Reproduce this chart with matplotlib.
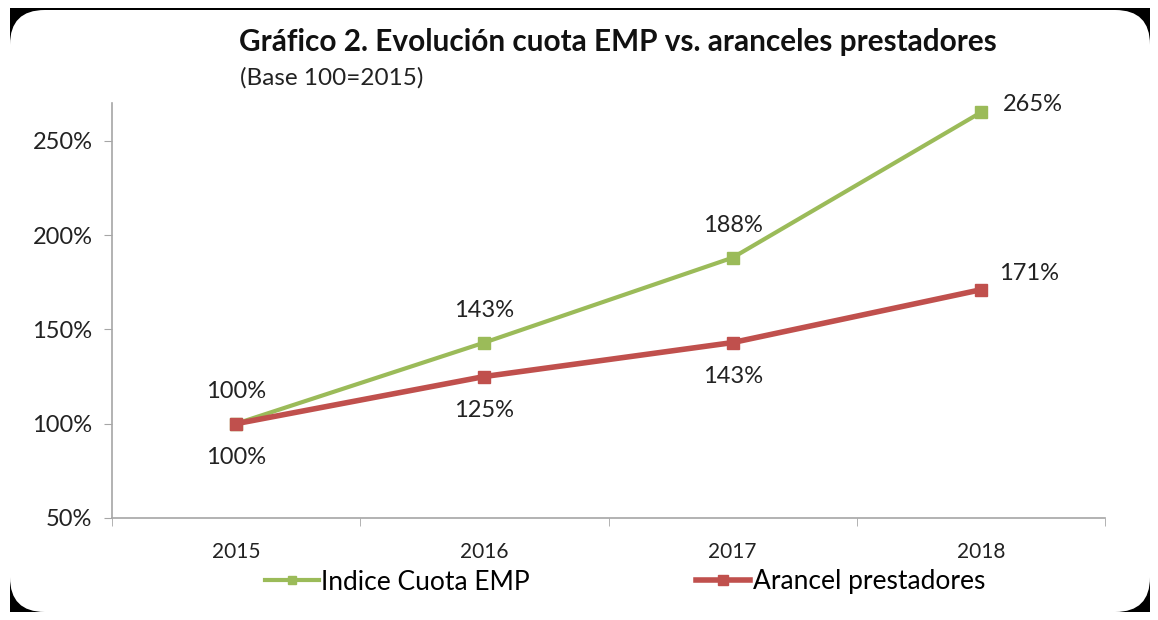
import matplotlib.pyplot as plt
from matplotlib.patches import FancyBboxPatch, Rectangle
from matplotlib.ticker import FixedLocator, FuncFormatter

plt.rcParams['font.family'] = ['Lato', 'DejaVu Sans']

# datos del gráfico
years = ['2015', '2016', '2017', '2018']
cuota_emp = [100, 143, 188, 265]
arancel = [100, 125, 143, 171]
y_ticks = [50, 100, 150, 200, 250]

verde = '#9BBB59'
rojo = '#C0504D'
texto = '#222222'

fig = plt.figure(figsize=(11.58, 6.2), dpi=100)

# marco: esquinas negras y fondo blanco redondeado
fig.patches.append(Rectangle((10 / 1158, 8 / 620), 1140 / 1158, 604 / 620,
                             transform=fig.transFigure, facecolor='black',
                             edgecolor='none', zorder=-2))
fig.patches.append(FancyBboxPatch((10 / 1158, 8 / 620), 1140 / 1158, 602 / 620,
                                  boxstyle='round,pad=0,rounding_size=0.03',
                                  mutation_aspect=1158 / 620,
                                  transform=fig.transFigure, facecolor='white',
                                  edgecolor='none', zorder=-1))

ax = fig.add_axes([112 / 1158, 1 - 518 / 620, (1105 - 112) / 1158, (518 - 103) / 620])
ax.set_facecolor('none')
x = list(range(len(years)))

ax.plot(x, cuota_emp, color=verde, lw=3, marker='s', ms=8, label='Indice Cuota EMP', zorder=3)
ax.plot(x, arancel, color=rojo, lw=4, marker='s', ms=9, label='Arancel prestadores', zorder=4)

# etiquetas de datos
for i, v in enumerate(cuota_emp):
    if i == len(x) - 1:
        ax.annotate(f'{v}%', (i, v), xytext=(22, 8), textcoords='offset pixels',
                    ha='left', va='center', fontsize=17, color=texto)
    else:
        ax.annotate(f'{v}%', (i, v), xytext=(0, 32), textcoords='offset pixels',
                    ha='center', va='center', fontsize=17, color=texto)
for i, v in enumerate(arancel):
    if i == len(x) - 1:
        ax.annotate(f'{v}%', (i, v), xytext=(18, 16), textcoords='offset pixels',
                    ha='left', va='center', fontsize=17, color=texto)
    else:
        ax.annotate(f'{v}%', (i, v), xytext=(0, -34), textcoords='offset pixels',
                    ha='center', va='center', fontsize=17, color=texto)

ax.set_xlim(-0.5, 3.5)
ax.set_ylim(50, 270)
ax.set_xticks(x)
ax.set_xticklabels(years, fontsize=15, color=texto)
ax.xaxis.set_minor_locator(FixedLocator([-0.5, 0.5, 1.5, 2.5, 3.5]))
ax.tick_params(axis='x', which='major', length=0, pad=17)
ax.tick_params(axis='x', which='minor', length=6, color='#A6A6A6', direction='out')
ax.set_yticks(y_ticks)
ax.yaxis.set_major_formatter(FuncFormatter(lambda v, p: f'{v:.0f}%'))
ax.tick_params(axis='y', length=6, color='#A6A6A6', labelsize=17, labelcolor=texto, pad=8)
for s in ['top', 'right']:
    ax.spines[s].set_visible(False)
for s in ['left', 'bottom']:
    ax.spines[s].set_color('#A6A6A6')
    ax.spines[s].set_linewidth(1.2)

fig.text(618 / 1158, 1 - 42 / 620, 'Gráfico 2. Evolución cuota EMP vs. aranceles prestadores',
         ha='center', va='center', fontsize=21.4, fontweight='bold', color='#111111')
fig.text(240 / 1158, 1 - 78 / 620, '(Base 100=2015)', ha='left', va='center',
         fontsize=17.5, color=texto)

fig.legend(loc='center', bbox_to_anchor=(625 / 1158, 1 - 582 / 620), ncol=2,
           frameon=False, fontsize=19, handlelength=2.05, handletextpad=0.1,
           columnspacing=6.3, markerscale=0.8)

fig.savefig('out.png', dpi=100)
